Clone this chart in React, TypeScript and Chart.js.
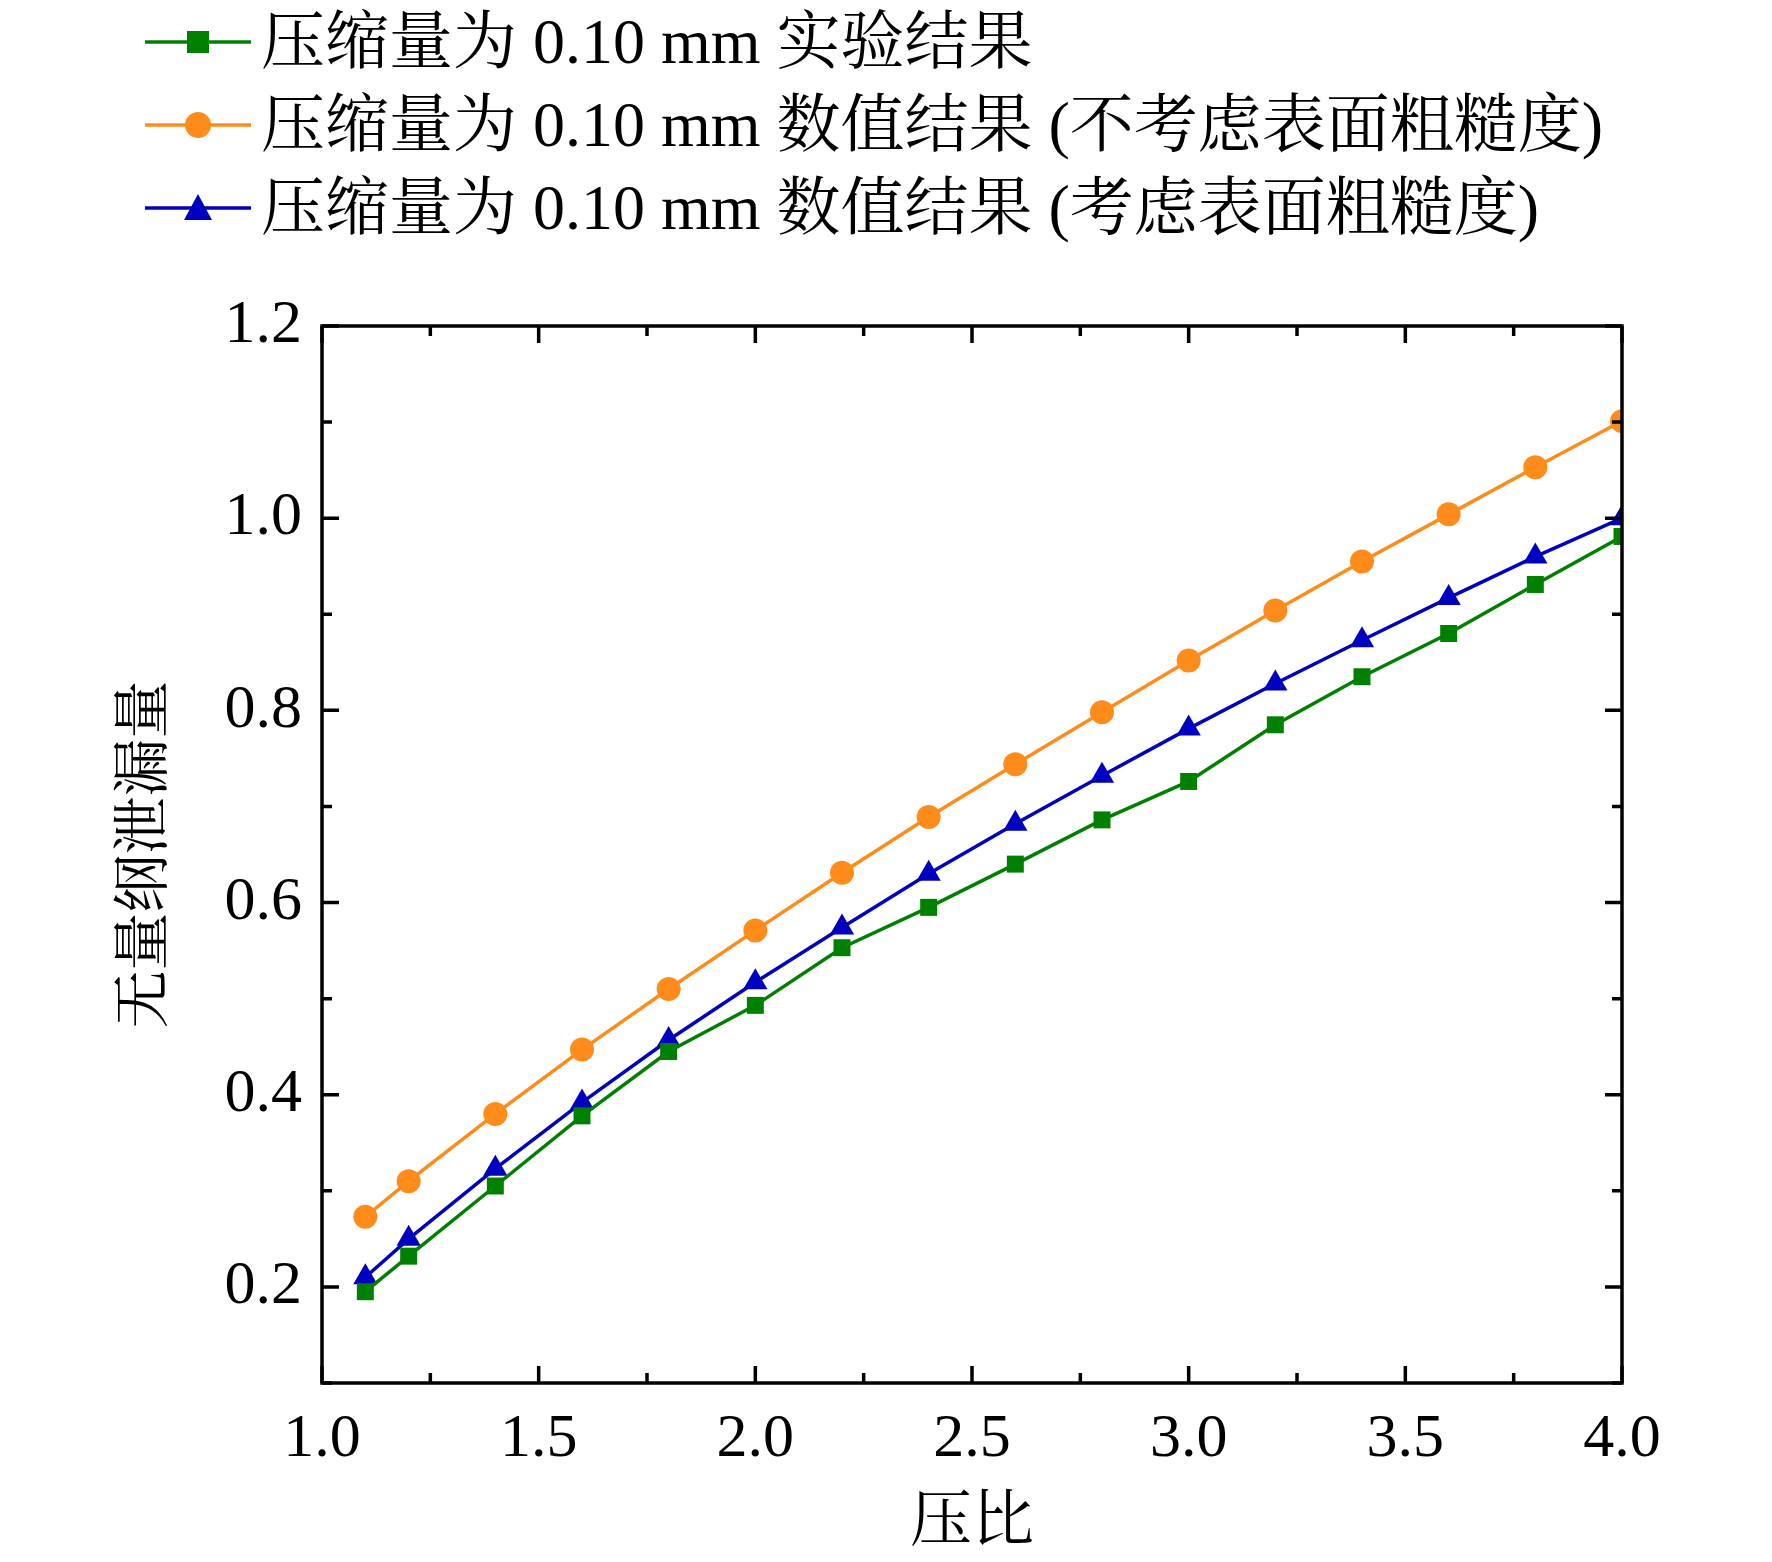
import React, { useEffect, useRef } from "react";
import { Chart, registerables } from "chart.js";
Chart.register(...registerables);

const xValues = [1.1, 1.2, 1.4, 1.6, 1.8, 2.0, 2.2, 2.4, 2.6, 2.8, 3.0, 3.2, 3.4, 3.6, 3.8, 4.0];
const expData = [0.195, 0.232, 0.305, 0.378, 0.445, 0.493, 0.553, 0.595, 0.640, 0.686, 0.726, 0.785, 0.835, 0.880, 0.931, 0.981];
const numNoRough = [0.273, 0.310, 0.380, 0.447, 0.510, 0.571, 0.631, 0.689, 0.744, 0.798, 0.852, 0.904, 0.955, 1.004, 1.053, 1.101];
const numRough = [0.210, 0.250, 0.323, 0.392, 0.457, 0.517, 0.574, 0.630, 0.682, 0.732, 0.781, 0.828, 0.873, 0.917, 0.960, 1.000];
const xTicks = [1.0, 1.5, 2.0, 2.5, 3.0, 3.5, 4.0];
const yTicks = [0.2, 0.4, 0.6, 0.8, 1.0, 1.2];
const legendLabels = [
  "压缩量为 0.10 mm 实验结果",
  "压缩量为 0.10 mm 数值结果 (不考虑表面粗糙度)",
  "压缩量为 0.10 mm 数值结果 (考虑表面粗糙度)",
];
const colors = ["#008000", "#ff8c1a", "#0000c0"];
const styles = ["rect", "circle", "triangle"];

const FONT = "'Liberation Serif', 'Times New Roman', 'Noto Serif CJK SC', 'Noto Sans CJK SC', serif";

const tickPlugin = {
  id: "inTicks",
  afterDraw(chart: any) {
    const { ctx, chartArea: a, scales } = chart;
    const xs = scales.x, ys = scales.y;
    ctx.save();
    ctx.strokeStyle = "#000";
    ctx.lineWidth = 3.5;
    ctx.strokeRect(a.left, a.top, a.right - a.left, a.bottom - a.top);
    for (let v = 1.0; v <= 4.001; v += 0.25) {
      const major = Math.abs(v * 2 - Math.round(v * 2)) < 1e-6;
      const L = major ? 17 : 10;
      const px = xs.getPixelForValue(v);
      ctx.beginPath();
      ctx.moveTo(px, a.bottom); ctx.lineTo(px, a.bottom - L);
      ctx.moveTo(px, a.top); ctx.lineTo(px, a.top + L);
      ctx.stroke();
    }
    for (let i = 1; i <= 12; i++) {
      const v = i / 10;
      const major = i % 2 === 0;
      const L = major ? 17 : 10;
      const py = ys.getPixelForValue(v);
      ctx.beginPath();
      ctx.moveTo(a.left, py); ctx.lineTo(a.left + L, py);
      ctx.moveTo(a.right, py); ctx.lineTo(a.right - L, py);
      ctx.stroke();
    }
    ctx.restore();
  },
};

function LegendMarker({ i }: { i: number }) {
  const c = colors[i];
  return (
    <svg width={106} height={32} style={{ marginRight: 10 }}>
      <line x1={0} y1={16} x2={106} y2={16} stroke={c} strokeWidth={3.5} />
      {i === 0 && <rect x={42} y={5} width={22} height={22} fill={c} />}
      {i === 1 && <circle cx={53} cy={16} r={13} fill={c} />}
      {i === 2 && <polygon points="53,2 67,28 39,28" fill={c} />}
    </svg>
  );
}

export default function App() {
  const ref = useRef<HTMLCanvasElement>(null);
  useEffect(() => {
    const mk = (d: number[]) => xValues.map((x, i) => ({ x, y: d[i] }));
    const sets = [expData, numNoRough, numRough];
    const chart = new Chart(ref.current!, {
      type: "line",
      data: {
        datasets: sets.map((d, i) => ({
          label: legendLabels[i],
          data: mk(d),
          borderColor: colors[i],
          backgroundColor: colors[i],
          borderWidth: 3.5,
          pointStyle: styles[i] as any,
          pointRadius: i === 2 ? 14 : 12,
          pointBorderWidth: 0,
          tension: 0,
        })),
      },
      options: {
        animation: false,
        responsive: false,
        layout: { padding: { top: 326, right: 150, left: 0, bottom: 0 } },
        plugins: { legend: { display: false }, tooltip: { enabled: false } },
        scales: {
          x: {
            type: "linear", min: 1.0, max: 4.0,
            afterBuildTicks: (s: any) => { s.ticks = xTicks.map((v) => ({ value: v })); },
            afterFit: (s: any) => { s.height = 179; },
            grid: { display: false, drawTicks: false },
            border: { display: false },
            ticks: { color: "#000", padding: 20, font: { family: FONT, size: 62 }, callback: (v: any) => Number(v).toFixed(1), maxRotation: 0 },
            title: { display: true, text: "压比", color: "#000", padding: 0, font: { family: FONT, size: 62 } },
          },
          y: {
            type: "linear", min: 0.1, max: 1.2,
            afterBuildTicks: (s: any) => { s.ticks = yTicks.map((v) => ({ value: v })); },
            afterFit: (s: any) => { s.width = 322; },
            grid: { display: false, drawTicks: false },
            border: { display: false },
            ticks: { color: "#000", padding: 20, font: { family: FONT, size: 62 }, callback: (v: any) => Number(v).toFixed(1) },
            title: { display: true, text: "无量纲泄漏量", color: "#000", padding: { top: 112, bottom: 0 }, font: { family: FONT, size: 58 } },
          },
        },
      },
      plugins: [tickPlugin],
    });
    return () => chart.destroy();
  }, []);
  return (
    <div style={{ position: "fixed", left: 0, top: 0, width: 1772, height: 1562, background: "#fff" }}>
      <canvas ref={ref} width={1772} height={1562} style={{ position: "absolute", left: 0, top: 0 }} />
      <div style={{ position: "absolute", left: 145, top: 0, fontFamily: FONT, fontSize: 64, color: "#000", lineHeight: "83px" }}>
        {legendLabels.map((t, i) => (
          <div key={i} style={{ display: "flex", alignItems: "center", whiteSpace: "nowrap" }}>
            <LegendMarker i={i} />
            <span>{t}</span>
          </div>
        ))}
      </div>
    </div>
  );
}
